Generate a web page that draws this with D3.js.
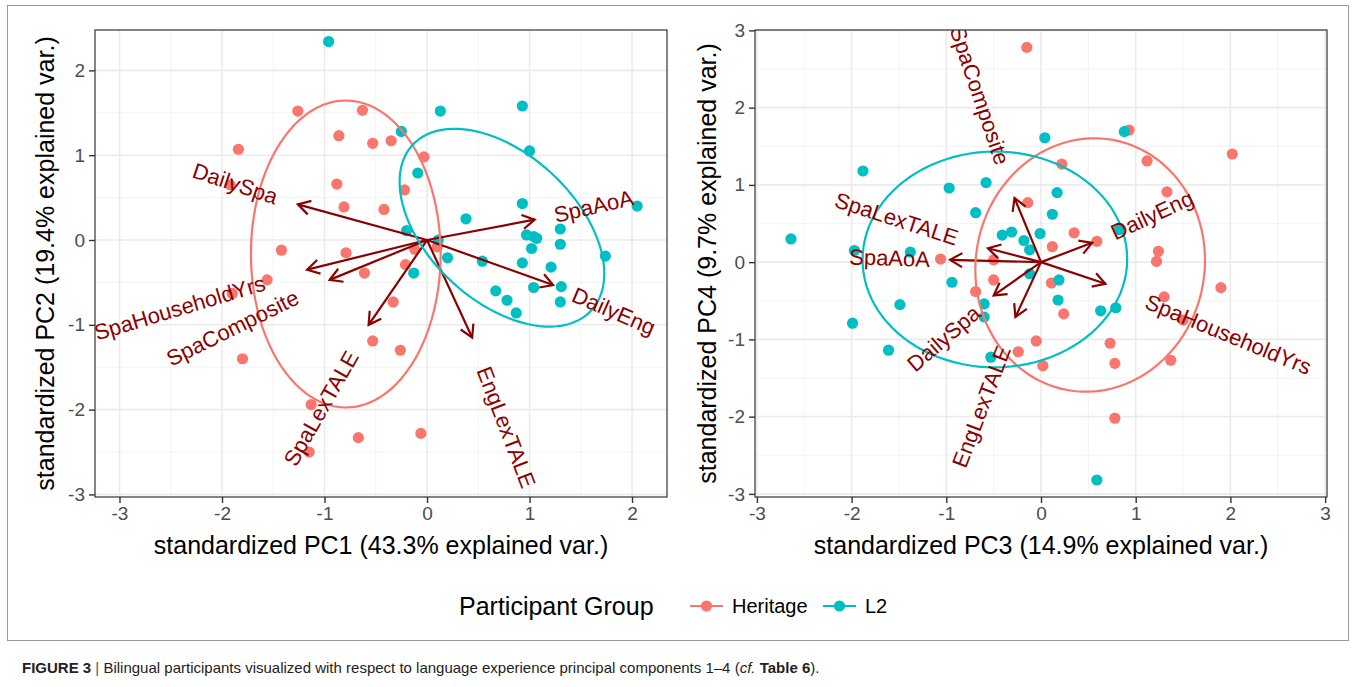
<!DOCTYPE html>
<html><head><meta charset="utf-8">
<script src="https://cdn.jsdelivr.net/npm/d3@7"></script>
<style>
body{margin:0;background:#fff;}
text{font-family:"Liberation Sans",Arial,Helvetica,sans-serif;}
</style>
</head><body>
<svg id="chart" width="1356" height="687"></svg>
<script>
// ---------------- data ----------------
const groups = ["Heritage", "L2"];
const groupColors = ["#F8766D", "#00BFC4"];
const legendTitle = "Participant Group";

const variableNames = ["DailySpa", "SpaAoA", "DailyEng", "EngLexTALE", "SpaLexTALE", "SpaHouseholdYrs", "SpaComposite"];

// PC1 / PC2 scores
const heritagePC12 = [[-1.26,1.52],[-0.63,1.53],[-1.84,1.07],[-0.86,1.23],[-0.53,1.14],[-0.35,1.17],[-0.03,0.98],
  [-1.92,0.65],[-0.88,0.66],[-0.81,0.39],[-0.42,0.36],[-0.22,0.59],[-1.42,-0.12],[-0.79,-0.15],[-0.61,-0.39],
  [-1.56,-0.47],[-1.90,-0.63],[-1.80,-1.40],[-0.53,-1.19],[-1.13,-1.94],[-0.67,-2.33],[-1.15,-2.50],[-0.06,-2.28],
  [-0.26,-1.30],[-0.33,-0.73],[-0.21,-0.29],[-0.12,-0.11],[0.10,-0.08]];
const l2PC12 = [[-0.96,2.34],[0.13,1.52],[0.93,1.58],[-0.25,1.28],[1.00,1.05],[-0.09,0.79],[0.93,0.43],[2.05,0.40],
  [0.38,0.25],[1.30,0.13],[-0.20,0.11],[0.97,0.06],[1.04,0.04],[1.07,0.02],[1.02,-0.10],[1.30,-0.05],[0.11,0.00],
  [0.20,-0.21],[0.54,-0.25],[0.93,-0.27],[1.21,-0.32],[1.74,-0.19],[-0.13,-0.39],[1.04,-0.56],[1.31,-0.55],
  [1.30,-0.73],[0.67,-0.60],[0.78,-0.71],[0.87,-0.86]];
// PC3 / PC4 scores
const heritagePC34 = [[-0.15,2.78],[-0.14,0.77],[-1.06,0.04],[-0.50,0.03],[0.93,1.71],[2.02,1.40],[1.12,1.31],
  [0.22,1.27],[1.33,0.91],[0.35,0.38],[0.59,0.27],[0.12,0.20],[1.24,0.14],[1.22,0.01],[1.90,-0.33],[1.30,-0.45],
  [1.50,-0.75],[1.37,-1.27],[0.73,-1.05],[0.78,-1.31],[0.78,-2.02],[0.11,-0.27],[0.24,-0.67],[-0.05,-1.02],
  [0.02,-1.34],[-0.50,-0.23],[-0.69,-0.38],[-0.24,-1.16]];
const l2PC34 = [[-1.88,1.18],[-0.97,0.96],[-0.58,1.03],[-0.69,0.64],[-0.41,0.35],[-0.31,0.39],[-0.18,0.28],
  [-0.12,0.16],[-2.64,0.30],[-1.97,0.15],[-1.38,0.13],[-0.01,0.37],[0.04,1.61],[0.88,1.69],[0.17,0.90],[0.12,0.62],
  [0.82,0.42],[0.19,-0.23],[0.18,-0.49],[0.63,-0.63],[0.79,-0.59],[0.59,-2.82],[-0.12,-0.15],[-0.94,-0.26],
  [-1.49,-0.55],[-1.99,-0.79],[-1.61,-1.14],[-0.60,-0.54],[-0.60,-0.71],[-0.53,-1.23]];

// variable loading arrows (same order as variableNames)
const loadPC1 = [-1.26, 1.05, 1.23, 0.44, -0.57, -1.17, -0.95];
const loadPC2 = [0.42, 0.24, -0.53, -1.15, -1.00, -0.35, -0.47];
const loadPC3 = [-0.50, -0.96, 0.54, -0.27, -0.56, 0.68, -0.28];
const loadPC4 = [-0.43, 0.03, 0.25, -0.71, 0.18, -0.28, 0.83];

const ticksPC1 = [-3, -2, -1, 0, 1, 2];
const ticksPC2 = [-3, -2, -1, 0, 1, 2];
const ticksPC3 = [-3, -2, -1, 0, 1, 2, 3];
const ticksPC4 = [-3, -2, -1, 0, 1, 2, 3];
const minorPC1 = [-2.5, -1.5, -0.5, 0.5, 1.5];
const minorPC2 = [-2.5, -1.5, -0.5, 0.5, 1.5];
const minorPC3 = [-2.5, -1.5, -0.5, 0.5, 1.5, 2.5];
const minorPC4 = [-2.5, -1.5, -0.5, 0.5, 1.5, 2.5];

const titlePC1 = "standardized PC1 (43.3% explained var.)";
const titlePC2 = "standardized PC2 (19.4% explained var.)";
const titlePC3 = "standardized PC3 (14.9% explained var.)";
const titlePC4 = "standardized PC4 (9.7% explained var.)";

const ellipseProb = 0.68;
const varnameAdjust = 1.5;

// ---------------- drawing ----------------
const svg = d3.select("#chart");
const darkred = "#8B0000";

// outer figure frame
svg.append("rect").attr("x", 7.5).attr("y", 5.5).attr("width", 1341).attr("height", 635)
  .attr("fill", "none").attr("stroke", "#9a9a9a").attr("stroke-width", 1);

function ellipsePath(pts) {
  const n = pts.length;
  const mx = d3.mean(pts, d => d[0]), my = d3.mean(pts, d => d[1]);
  let sxx = 0, syy = 0, sxy = 0;
  pts.forEach(d => { sxx += (d[0]-mx)**2; syy += (d[1]-my)**2; sxy += (d[0]-mx)*(d[1]-my); });
  sxx /= (n-1); syy /= (n-1); sxy /= (n-1);
  const r11 = Math.sqrt(sxx), r12 = sxy / r11, r22 = Math.sqrt(syy - r12*r12);
  const ed = Math.sqrt(-2 * Math.log(1 - ellipseProb));
  const out = [];
  for (let i = 0; i <= 100; i++) {
    const t = -Math.PI + 2 * Math.PI * i / 100;
    const c = Math.cos(t), s = Math.sin(t);
    out.push([mx + ed * c * r11, my + ed * (c * r12 + s * r22)]);
  }
  return out;
}

let clipId = 0;
function drawPanel(cfg) {
  const {x0, x1, y0, y1, xDom, yDom, xTicks, yTicks, xMinor, yMinor, heritage, l2, lx, ly, xTitle, yTitle, yTitleX} = cfg;
  const x = d3.scaleLinear().domain(xDom).range([x0, x1]);
  const y = d3.scaleLinear().domain(yDom).range([y1, y0]);
  const g = svg.append("g");
  const cid = "clip" + (clipId++);
  svg.append("clipPath").attr("id", cid).append("rect").attr("x", x0).attr("y", y0).attr("width", x1 - x0).attr("height", y1 - y0);

  // grid
  const grid = g.append("g");
  grid.selectAll(".mx").data(xMinor).join("line").attr("x1", d => x(d)).attr("x2", d => x(d)).attr("y1", y0).attr("y2", y1)
    .attr("stroke", "#F0F0F0").attr("stroke-width", 0.8);
  grid.selectAll(".my").data(yMinor).join("line").attr("y1", d => y(d)).attr("y2", d => y(d)).attr("x1", x0).attr("x2", x1)
    .attr("stroke", "#F0F0F0").attr("stroke-width", 0.8);
  grid.selectAll(".gx").data(xTicks).join("line").attr("x1", d => x(d)).attr("x2", d => x(d)).attr("y1", y0).attr("y2", y1)
    .attr("stroke", "#EBEBEB").attr("stroke-width", 1.6);
  grid.selectAll(".gy").data(yTicks).join("line").attr("y1", d => y(d)).attr("y2", d => y(d)).attr("x1", x0).attr("x2", x1)
    .attr("stroke", "#EBEBEB").attr("stroke-width", 1.6);

  const plot = g.append("g").attr("clip-path", `url(#${cid})`);

  // points
  [heritage, l2].forEach((pts, gi) => {
    plot.append("g").selectAll("circle").data(pts).join("circle")
      .attr("cx", d => x(d[0])).attr("cy", d => y(d[1])).attr("r", 5.6).attr("fill", groupColors[gi]);
  });

  // arrows
  const arrows = plot.append("g");
  const ox = x(0), oy = y(0);
  variableNames.forEach((name, i) => {
    const tx = x(lx[i]), ty = y(ly[i]);
    arrows.append("line").attr("x1", ox).attr("y1", oy).attr("x2", tx).attr("y2", ty)
      .attr("stroke", darkred).attr("stroke-width", 2.2);
    const ang = Math.atan2(ty - oy, tx - ox);
    const L = 14, a = Math.PI / 6;
    const p1 = [tx - L * Math.cos(ang - a), ty - L * Math.sin(ang - a)];
    const p2 = [tx - L * Math.cos(ang + a), ty - L * Math.sin(ang + a)];
    arrows.append("path").attr("d", `M${p1[0]},${p1[1]}L${tx},${ty}L${p2[0]},${p2[1]}`)
      .attr("fill", "none").attr("stroke", darkred).attr("stroke-width", 2.2).attr("stroke-linejoin", "miter");
  });

  // ellipses
  const line = d3.line().x(d => x(d[0])).y(d => y(d[1]));
  [heritage, l2].forEach((pts, gi) => {
    plot.append("path").attr("d", line(ellipsePath(pts))).attr("fill", "none")
      .attr("stroke", groupColors[gi]).attr("stroke-width", 2.2);
  });

  // variable labels
  variableNames.forEach((name, i) => {
    const angle = Math.atan(ly[i] / lx[i]) * 180 / Math.PI;
    const hjust = (1 - varnameAdjust * Math.sign(lx[i])) / 2;
    const tg = plot.append("g").attr("transform", `translate(${x(lx[i])},${y(ly[i])}) rotate(${-angle})`);
    const t = tg.append("text").text(name).attr("font-size", 22).attr("fill", darkred).attr("dy", "0.35em");
    const w = t.node().getComputedTextLength();
    t.attr("x", -hjust * w);
  });

  // border
  g.append("rect").attr("x", x0).attr("y", y0).attr("width", x1 - x0).attr("height", y1 - y0)
    .attr("fill", "none").attr("stroke", "#333333").attr("stroke-width", 1.2);

  // ticks
  const xa = g.append("g").attr("transform", `translate(0,${y1})`)
    .call(d3.axisBottom(x).tickValues(xTicks).tickSize(6).tickPadding(4).tickFormat(d3.format("d")));
  const ya = g.append("g").attr("transform", `translate(${x0},0)`)
    .call(d3.axisLeft(y).tickValues(yTicks).tickSize(6).tickPadding(4).tickFormat(d3.format("d")));
  [xa, ya].forEach(a => {
    a.select(".domain").remove();
    a.selectAll(".tick line").attr("stroke", "#333333").attr("stroke-width", 1.4);
    a.selectAll(".tick text").attr("fill", "#4D4D4D").attr("font-size", 19)
      .attr("font-family", '"Liberation Sans",Arial,Helvetica,sans-serif');
  });
  xa.selectAll(".tick text").text(d => d < 0 ? "-" + Math.abs(d) : d);
  ya.selectAll(".tick text").text(d => d < 0 ? "-" + Math.abs(d) : d);

  // titles
  svg.append("text").attr("x", (x0 + x1) / 2).attr("y", 554).attr("text-anchor", "middle")
    .attr("font-size", 25).attr("fill", "#000").text(xTitle);
  svg.append("text").attr("transform", `translate(${yTitleX},${(y0 + y1) / 2}) rotate(-90)`)
    .attr("text-anchor", "middle").attr("font-size", 25).attr("fill", "#000").text(yTitle);
}

drawPanel({x0: 95, x1: 667, y0: 30, y1: 497, xDom: [-3.239, 2.341], yDom: [-3.03, 2.476],
  xTicks: ticksPC1, yTicks: ticksPC2, xMinor: minorPC1, yMinor: minorPC2,
  heritage: heritagePC12, l2: l2PC12, lx: loadPC1, ly: loadPC2, xTitle: titlePC1, yTitle: titlePC2, yTitleX: 54});

drawPanel({x0: 755, x1: 1327, y0: 30, y1: 497, xDom: [-3.02, 3.02], yDom: [-3.04, 3.005],
  xTicks: ticksPC3, yTicks: ticksPC4, xMinor: minorPC3, yMinor: minorPC4,
  heritage: heritagePC34, l2: l2PC34, lx: loadPC3, ly: loadPC4, xTitle: titlePC3, yTitle: titlePC4, yTitleX: 716});

// legend
const leg = svg.append("g");
leg.append("text").attr("x", 459).attr("y", 615).attr("font-size", 25).attr("fill", "#000").text(legendTitle);
const legX = [690, 823];
groups.forEach((gname, i) => {
  const lx0 = legX[i];
  leg.append("line").attr("x1", lx0).attr("x2", lx0 + 33).attr("y1", 606).attr("y2", 606)
    .attr("stroke", groupColors[i]).attr("stroke-width", 2.2);
  leg.append("circle").attr("cx", lx0 + 16.5).attr("cy", 606).attr("r", 5.6).attr("fill", groupColors[i]);
  leg.append("text").attr("x", lx0 + 42).attr("y", 613).attr("font-size", 20).attr("fill", "#000").text(gname);
});

// caption
const cap = svg.append("text").attr("x", 22).attr("y", 673).attr("font-size", 15).attr("fill", "#222");
cap.append("tspan").attr("font-weight", "bold").text("FIGURE 3");
cap.append("tspan").attr("fill", "#555").text("  |  ");
cap.append("tspan").text("Bilingual participants visualized with respect to language experience principal components 1–4 (");
cap.append("tspan").attr("font-style", "italic").text("cf.");
cap.append("tspan").text(" ");
cap.append("tspan").attr("font-weight", "bold").text("Table 6");
cap.append("tspan").text(").");
</script>
</body></html>
